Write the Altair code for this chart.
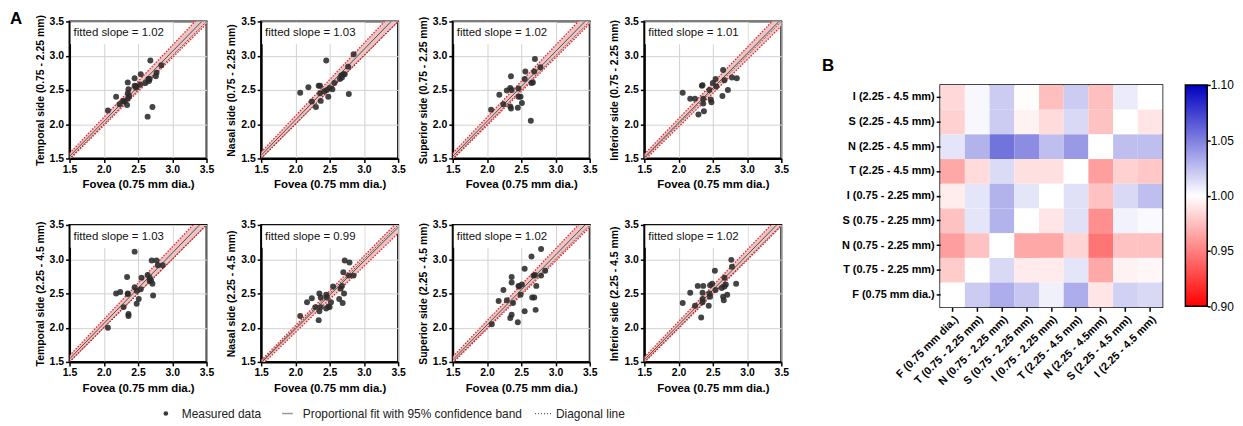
import altair as alt
import pandas as pd

FONT = "Liberation Sans"

# ---------------- data ----------------
axis_ticks = [1.5, 2.0, 2.5, 3.0, 3.5]
x_title = "Fovea (0.75 mm dia.)"
panel_titles = [
    "Temporal side (0.75 - 2.25 mm)", "Nasal side (0.75 - 2.25 mm)",
    "Superior side (0.75 - 2.25 mm)", "Inferior side (0.75 - 2.25 mm)",
    "Temporal side (2.25 - 4.5 mm)", "Nasal side (2.25 - 4.5 mm)",
    "Superior side (2.25 - 4.5 mm)", "Inferior side (2.25 - 4.5 mm)",
]
slopes = [1.02, 1.03, 1.02, 1.01, 1.03, 0.99, 1.02, 1.02]
slope_lo = [0.99, 1.00, 0.99, 0.98, 1.00, 0.965, 0.99, 0.995]
slope_hi = [1.05, 1.06, 1.05, 1.04, 1.06, 1.015, 1.05, 1.045]

p1_x = [2.06, 2.18, 2.23, 2.30, 2.34, 2.35, 2.35, 2.36, 2.35, 2.45, 2.45, 2.47, 2.48, 2.53, 2.54, 2.61, 2.64, 2.65, 2.68, 2.67, 2.71, 2.76, 2.77, 2.84, 2.66, 2.28, 2.37]
p1_y = [2.20, 2.40, 2.29, 2.33, 2.28, 2.37, 2.45, 2.51, 2.61, 2.67, 2.56, 2.53, 2.55, 2.58, 2.73, 2.60, 2.11, 2.66, 2.93, 2.66, 2.25, 2.70, 2.75, 2.86, 2.63, 2.34, 2.41]
p2_x = [2.07, 2.19, 2.24, 2.30, 2.34, 2.36, 2.37, 2.45, 2.46, 2.48, 2.50, 2.54, 2.57, 2.65, 2.67, 2.70, 2.72, 2.77, 2.78, 2.85, 2.68, 2.42, 2.36]
p2_y = [2.46, 2.54, 2.33, 2.25, 2.56, 2.45, 2.34, 2.93, 2.50, 2.40, 2.53, 2.51, 2.60, 2.66, 2.71, 2.73, 2.73, 2.84, 2.44, 3.02, 2.68, 2.48, 2.56]
p3_x = [2.06, 2.18, 2.24, 2.29, 2.34, 2.35, 2.35, 2.36, 2.45, 2.46, 2.46, 2.49, 2.51, 2.55, 2.56, 2.64, 2.65, 2.67, 2.69, 2.70, 2.78, 2.34]
p3_y = [2.21, 2.43, 2.29, 2.49, 2.53, 2.70, 2.23, 2.50, 2.24, 2.52, 2.40, 2.40, 2.31, 2.66, 2.77, 2.05, 2.60, 2.61, 2.77, 2.95, 2.83, 2.26]
p4_x = [2.06, 2.17, 2.24, 2.29, 2.34, 2.36, 2.36, 2.37, 2.45, 2.47, 2.48, 2.50, 2.54, 2.55, 2.64, 2.65, 2.67, 2.72, 2.78, 2.85, 2.35]
p4_y = [2.46, 2.37, 2.37, 2.14, 2.56, 2.37, 2.30, 2.19, 2.50, 2.36, 2.32, 2.60, 2.66, 2.55, 2.41, 2.79, 2.64, 2.50, 2.68, 2.67, 2.57]
p5_x = [2.06, 2.18, 2.24, 2.29, 2.34, 2.35, 2.36, 2.36, 2.35, 2.45, 2.45, 2.48, 2.48, 2.51, 2.54, 2.55, 2.64, 2.67, 2.67, 2.70, 2.71, 2.72, 2.77, 2.79, 2.86, 2.69]
p5_y = [2.00, 2.50, 2.52, 2.30, 2.74, 2.50, 2.20, 2.17, 2.49, 3.11, 2.59, 2.54, 2.35, 2.42, 2.56, 2.73, 2.77, 2.73, 2.68, 2.98, 2.64, 2.47, 2.98, 2.91, 2.91, 2.69]
p6_x = [2.07, 2.17, 2.24, 2.29, 2.34, 2.35, 2.35, 2.37, 2.37, 2.45, 2.46, 2.45, 2.48, 2.50, 2.52, 2.55, 2.64, 2.66, 2.68, 2.69, 2.70, 2.72, 2.71, 2.79, 2.78, 2.85]
p6_y = [2.17, 2.37, 2.43, 2.30, 2.11, 2.50, 2.24, 2.30, 2.44, 2.48, 2.44, 2.28, 2.31, 2.30, 2.37, 2.60, 2.42, 2.57, 2.61, 2.36, 2.81, 2.98, 2.50, 2.95, 2.76, 2.76]
p7_x = [2.07, 2.17, 2.24, 2.29, 2.34, 2.36, 2.36, 2.36, 2.38, 2.45, 2.46, 2.47, 2.49, 2.51, 2.55, 2.55, 2.65, 2.66, 2.69, 2.70, 2.71, 2.72, 2.79, 2.79, 2.85, 2.68]
p7_y = [2.05, 2.39, 2.55, 2.40, 2.14, 2.19, 2.74, 2.66, 2.36, 2.08, 2.61, 2.60, 2.48, 2.63, 2.24, 2.86, 3.04, 2.44, 2.44, 2.77, 2.26, 2.61, 3.15, 2.76, 2.83, 2.76]
p8_x = [2.06, 2.17, 2.24, 2.28, 2.33, 2.35, 2.35, 2.36, 2.35, 2.44, 2.45, 2.46, 2.46, 2.49, 2.53, 2.54, 2.63, 2.65, 2.66, 2.67, 2.69, 2.71, 2.77, 2.78, 2.84, 2.67]
p8_y = [2.36, 2.51, 2.32, 2.61, 2.15, 2.51, 2.42, 2.61, 2.37, 2.32, 2.50, 2.62, 2.45, 2.64, 2.83, 2.55, 2.58, 2.45, 2.40, 2.73, 2.63, 2.48, 2.99, 2.89, 2.64, 2.60]

panel_x = [p1_x, p2_x, p3_x, p4_x, p5_x, p6_x, p7_x, p8_x]
panel_y = [p1_y, p2_y, p3_y, p4_y, p5_y, p6_y, p7_y, p8_y]

# heatmap: rows listed top -> bottom, columns left -> right
heat_rows = ["I (2.25 - 4.5 mm)", "S (2.25 - 4.5 mm)", "N (2.25 - 4.5 mm)", "T (2.25 - 4.5 mm)",
             "I (0.75 - 2.25 mm)", "S (0.75 - 2.25 mm)", "N (0.75 - 2.25 mm)", "T (0.75 - 2.25 mm)",
             "F (0.75 mm dia.)"]
heat_cols = ["F (0.75 mm dia.)", "T (0.75 - 2.25 mm)", "N (0.75 - 2.25 mm)", "S (0.75 - 2.25 mm)",
             "I (0.75 - 2.25 mm)", "T (2.25 - 4.5 mm)", "N (2.25 - 4.5mm)", "S (2.25 - 4.5 mm)",
             "I (2.25 - 4.5 mm)"]
heat_values = [
    [0.985, 1.003, 1.020, 0.999, 0.975, 1.020, 0.975, 1.008, 1.000],
    [0.982, 1.003, 1.020, 0.995, 0.986, 1.015, 0.976, 1.000, 0.990],
    [1.010, 1.030, 1.055, 1.045, 1.025, 1.040, 1.000, 1.025, 1.025],
    [0.966, 0.986, 1.014, 0.988, 0.988, 1.000, 0.962, 0.982, 0.978],
    [0.993, 1.010, 1.030, 1.010, 1.000, 1.012, 0.976, 1.015, 1.025],
    [0.976, 1.010, 1.030, 1.000, 0.990, 1.012, 0.956, 1.005, 1.002],
    [0.962, 0.976, 1.000, 0.966, 0.966, 0.983, 0.946, 0.976, 0.976],
    [0.980, 1.000, 1.015, 0.992, 0.992, 1.010, 0.966, 0.995, 0.997],
    [1.000, 1.020, 1.032, 1.022, 1.006, 1.032, 0.990, 1.018, 1.015],
]
color_domain = [0.90, 1.00, 1.10]
color_range = ["#ff0000", "#ffffff", "#0000c0"]
color_ticks = [0.90, 0.95, 1.00, 1.05, 1.10]

legend_labels = ["Measured data", "Proportional fit with 95% confidence band", "Diagonal line"]

# ---------------- panels ----------------
PW, PH = 138, 138
GAP = 55


def axis(title, title_size):
    return alt.Axis(values=axis_ticks, tickCount=len(axis_ticks), format=".1f", labelFlush=False,
                    labelOverlap=False,
                    labelFont=FONT, labelFontSize=10.5, labelFontWeight="bold", labelColor="black",
                    labelPadding=2, tickColor="black", tickSize=4, tickWidth=1.5,
                    domainColor="black", domainWidth=2, gridColor="#d2d2d2", gridWidth=1,
                    title=title, titleFont=FONT, titleFontSize=title_size, titleFontWeight="bold",
                    titleColor="black", titlePadding=4)


def panel(i, with_letter=False):
    sc = alt.Scale(domain=[axis_ticks[0], axis_ticks[-1]], nice=False, zero=False)
    pts = pd.DataFrame({"x": panel_x[i], "y": panel_y[i]})
    lx = pd.DataFrame({"x": [axis_ticks[0], axis_ticks[-1]]})
    lx["fit"] = lx["x"] * slopes[i]
    lx["lo"] = lx["x"] * slope_lo[i]
    lx["hi"] = lx["x"] * slope_hi[i]
    lx["diag"] = lx["x"]
    lab = pd.DataFrame({"t": ["fitted slope = %.2f" % slopes[i]]})

    X = alt.X("x:Q", scale=sc, axis=axis(x_title, 11.5))
    lb = alt.Chart(lx).encode(x=X)

    box = alt.Chart(lab).mark_rect(fill="white").encode(
        x=alt.value(1), x2=alt.value(104), y=alt.value(1), y2=alt.value(23))
    band = lb.mark_area(color="#eac5c5", clip=True).encode(
        y=alt.Y("lo:Q", scale=sc, axis=axis(panel_titles[i], 10.5)), y2="hi:Q")
    lo_line = lb.mark_line(color="#ff1a1a", strokeDash=[1.5, 1.5], strokeWidth=1.3, clip=True).encode(y="lo:Q")
    hi_line = lb.mark_line(color="#ff1a1a", strokeDash=[1.5, 1.5], strokeWidth=1.3, clip=True).encode(y="hi:Q")
    fit = lb.mark_line(color="#5e4848", strokeWidth=1, clip=True).encode(y="fit:Q")
    diag = lb.mark_line(color="black", strokeDash=[1, 1.5], strokeWidth=0.8, clip=True).encode(y="diag:Q")
    dots = alt.Chart(pts).mark_circle(size=36, color="#2a2a2a", opacity=0.88).encode(
        x="x:Q", y="y:Q")
    txt = alt.Chart(lab).mark_text(align="left", baseline="middle", font=FONT, fontSize=11.5,
                                   color="#111").encode(x=alt.value(4), y=alt.value(12), text="t:N")
    layers = [box, band, lo_line, hi_line, fit, diag, dots, txt]
    if with_letter:
        letter = alt.Chart(pd.DataFrame({"t": ["A"]})).mark_text(
            align="left", baseline="top", font=FONT, fontSize=17, fontWeight="bold",
            color="black").encode(x=alt.value(-60), y=alt.value(-10), text="t:N")
        layers.append(letter)
    return alt.layer(*layers).properties(width=PW, height=PH)


row1 = alt.hconcat(*[panel(i, with_letter=(i == 0)) for i in range(4)], spacing=GAP, bounds="flush")
row2 = alt.hconcat(*[panel(i) for i in range(4, 8)], spacing=GAP, bounds="flush")
rows = alt.vconcat(row1, row2, spacing=28)

# ---------------- bottom legend ----------------
LW = 4 * PW + 3 * GAP
leg = alt.Chart(pd.DataFrame({"label": legend_labels}))


def only(k):
    return leg.transform_filter(alt.datum.label == legend_labels[k])


leg_dot = only(0).mark_circle(size=22, color="#3a3a3a", opacity=1).encode(x=alt.value(97), y=alt.value(5))
leg_fit = only(1).mark_rule(color="#9a9a9a", strokeWidth=1.5).encode(x=alt.value(214), x2=alt.value(225), y=alt.value(5))
leg_diag = only(2).mark_rule(color="#555", strokeDash=[1, 2], strokeWidth=1.2).encode(x=alt.value(469), x2=alt.value(485), y=alt.value(5))
tstyle = dict(align="left", baseline="middle", font=FONT, fontSize=12, color="#222")
leg_t0 = only(0).mark_text(**tstyle).encode(x=alt.value(113), y=alt.value(5), text="label:N")
leg_t1 = only(1).mark_text(**tstyle).encode(x=alt.value(235), y=alt.value(5), text="label:N")
leg_t2 = only(2).mark_text(**tstyle).encode(x=alt.value(490), y=alt.value(5), text="label:N")
legend_chart = alt.layer(leg_dot, leg_fit, leg_diag, leg_t0, leg_t1, leg_t2).properties(
    width=LW, height=10, view=alt.ViewBackground(stroke="transparent"))

left = alt.vconcat(rows, legend_chart, spacing=12)

# ---------------- heatmap ----------------
recs = []
for r, rl in enumerate(heat_rows):
    for c, cl in enumerate(heat_cols):
        recs.append({"row": rl, "col": cl, "v": heat_values[r][c]})
hdf = pd.DataFrame(recs)

heat_axis = dict(labelFont=FONT, labelFontSize=11, labelFontWeight="bold", labelColor="black",
                 tickColor="black", tickSize=4, tickWidth=1.5, domain=False, labelPadding=2)
heat = alt.Chart(hdf).mark_rect().encode(
    x=alt.X("col:N", sort=heat_cols, title=None,
            scale=alt.Scale(paddingInner=0, paddingOuter=0),
            axis=alt.Axis(labelAngle=315, labelAlign="right", labelBaseline="top", **heat_axis)),
    y=alt.Y("row:N", sort=heat_rows, title=None,
            scale=alt.Scale(paddingInner=0, paddingOuter=0),
            axis=alt.Axis(**heat_axis)),
    color=alt.Color("v:Q", scale=alt.Scale(domain=color_domain, range=color_range, interpolate="rgb"),
                    legend=None),
).properties(width=224, height=224, view=alt.ViewBackground(stroke="black", strokeWidth=1.5))

# colour bar drawn as a gradient-filled rect on the same value scale
cb_df = pd.DataFrame({"lo": [color_domain[0]], "hi": [color_domain[-1]]})
grad = alt.Gradient(gradient="linear", x1=0, x2=0, y1=0, y2=1,
                    stops=[alt.GradientStop(offset=0, color=color_range[2]),
                           alt.GradientStop(offset=0.5, color=color_range[1]),
                           alt.GradientStop(offset=1, color=color_range[0])])
colorbar = alt.Chart(cb_df).mark_rect(fill=grad, stroke="black", strokeWidth=1.5).encode(
    x=alt.value(0), x2=alt.value(22),
    y=alt.Y("lo:Q", scale=alt.Scale(domain=[color_domain[0], color_domain[-1]], nice=False, zero=False),
            axis=alt.Axis(orient="right", values=color_ticks, tickCount=len(color_ticks), format=".2f",
                          title=None, grid=False,
                          domain=False, labelFlush=False, labelOverlap=False, tickColor="black",
                          tickSize=3, tickWidth=1.5, labelFont=FONT, labelFontSize=12,
                          labelColor="black", labelPadding=0)),
    y2="hi:Q",
).properties(width=22, height=223, view=alt.ViewBackground(stroke="transparent"))

hrow = alt.hconcat(heat, colorbar, spacing=23, bounds="flush")

bchart = alt.Chart(pd.DataFrame({"t": ["B"]})).mark_text(
    align="left", baseline="alphabetic", font=FONT, fontSize=17, fontWeight="bold", color="black"
).encode(x=alt.value(-119), y=alt.value(50), text="t:N").properties(
    width=224, height=54, view=alt.ViewBackground(stroke="transparent"))

right = alt.vconcat(bchart, hrow, spacing=2)

chart = alt.hconcat(left, right, spacing=31).properties(
    padding={"left": 1, "top": 0, "right": 0, "bottom": 0}
).configure(font=FONT).configure_view(stroke="black", strokeWidth=2)

chart.save("out.html", embed_options={"renderer": "svg", "actions": False})
